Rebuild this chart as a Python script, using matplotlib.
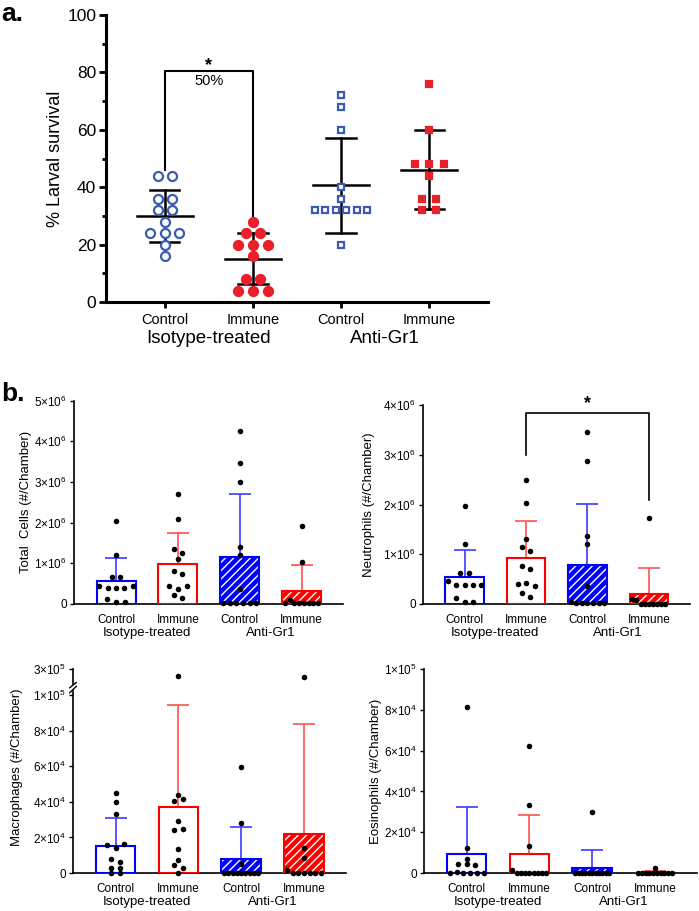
import numpy as np
import matplotlib
matplotlib.use("Agg")
import matplotlib.pyplot as plt
from matplotlib.ticker import FuncFormatter, MultipleLocator

plt.rcParams['font.family'] = ['Liberation Sans', 'DejaVu Sans']
plt.rcParams['mathtext.fontset'] = 'custom'
plt.rcParams['mathtext.rm'] = 'Liberation Sans'
plt.rcParams['hatch.linewidth'] = 1.0

# ---- panel a: % larval survival ----
a_groups = ["Control", "Immune", "Control", "Immune"]
a_treat = ["Isotype-treated", "Anti-Gr1"]
a_ctrl_iso = [44, 44, 36, 36, 32, 32, 28, 24, 24, 24, 20, 16]
a_imm_iso = [28, 24, 24, 20, 20, 20, 16, 8, 8, 4, 4, 4]
a_ctrl_gr1 = [72, 68, 60, 40, 36, 32, 32, 32, 32, 32, 32, 20]
a_imm_gr1 = [76, 60, 48, 48, 48, 44, 36, 36, 32, 32]

# ---- panel b: cells per chamber ----
tot_ctrl_iso = [2.03, 1.20, 0.66, 0.66, 0.45, 0.385, 0.385, 0.385, 0.45, 0.13, 0.04, 0.04]
tot_imm_iso = [2.71, 2.08, 1.35, 1.25, 1.10, 0.80, 0.74, 0.45, 0.37, 0.45, 0.22, 0.15]
tot_ctrl_gr1 = [4.25, 3.46, 2.99, 1.39, 1.20, 0.36, 0.03, 0.03, 0.03, 0.03, 0.03, 0.03]
tot_imm_gr1 = [1.92, 1.04, 0.03, 0.11, 0.03, 0.03, 0.03, 0.03, 0.03, 0.03]

neu_ctrl_iso = [1.96, 1.21, 0.62, 0.62, 0.455, 0.38, 0.38, 0.38, 0.38, 0.13, 0.05, 0.05]
neu_imm_iso = [2.50, 2.04, 1.31, 1.15, 1.07, 0.77, 0.70, 0.40, 0.43, 0.37, 0.23, 0.14]
neu_ctrl_gr1 = [3.46, 2.88, 1.37, 1.21, 0.37, 0.05, 0.02, 0.02, 0.02, 0.02, 0.02, 0.02]
neu_imm_gr1 = [1.72, 0.10, 0.08, 0.01, 0.01, 0.01, 0.01, 0.01, 0.01, 0.01]

mac_ctrl_iso = [4.49, 3.98, 3.30, 1.59, 1.40, 1.64, 0.78, 0.60, 0.26, 0.26, 0.0, 0.0]
mac_imm_iso = [21.2, 4.40, 4.05, 4.15, 2.93, 2.40, 2.47, 1.33, 0.75, 0.43, 0.28, 0.0]
mac_ctrl_gr1 = [5.98, 2.80, 0.52, 0, 0, 0, 0, 0, 0, 0, 0, 0]
mac_imm_gr1 = [19.7, 1.40, 0.84, 0.19, 0, 0, 0, 0, 0, 0]

eos_ctrl_iso = [8.16, 1.22, 0.69, 0.46, 0.44, 0.37, 0, 0.05, 0, 0, 0, 0]
eos_imm_iso = [6.23, 3.31, 1.34, 0.16, 0, 0, 0, 0, 0, 0, 0, 0]
eos_ctrl_gr1 = [2.99, 0, 0, 0, 0, 0, 0, 0, 0, 0, 0, 0]
eos_imm_gr1 = [0.26, 0, 0, 0, 0, 0, 0, 0, 0, 0, 0]

BLUE = '#0000ff'
RED = '#ff0000'


def swarm(vals, tol, step, half):
    # spread points with nearly equal values side by side
    vals = np.asarray(vals, float)
    order = np.argsort(vals, kind='stable')
    xs = np.zeros(len(vals))
    groups, cur = [], [order[0]]
    for i in order[1:]:
        if vals[i] - vals[cur[-1]] <= tol:
            cur.append(i)
        else:
            groups.append(cur)
            cur = [i]
    groups.append(cur)
    for g in groups:
        g = sorted(g)
        n = len(g)
        sp = step if n < 2 else min(step, 2 * half / (n - 1))
        for k, i in enumerate(g):
            xs[i] = (k - (n - 1) / 2) * sp
    return xs


fig = plt.figure(figsize=(6.99, 9.11), dpi=100)


def px_axes(l, t, r, b):
    return fig.add_axes([l / 699, 1 - b / 911, (r - l) / 699, (b - t) / 911])


# ================= panel a =================
ax = px_axes(106, 15, 488, 302)
a_sets = [(a_ctrl_iso, 'o', 'white', '#3a5bb0', 6.5),
          (a_imm_iso, 'o', '#e8202a', '#e8202a', 6.5),
          (a_ctrl_gr1, 's', 'white', '#3a5bb0', 5.0),
          (a_imm_gr1, 's', '#e8202a', '#e8202a', 5.0)]
for i, (vals, mk, fc, ec, ms) in enumerate(a_sets):
    v = np.array(vals, float)
    off = swarm(v, 0.5, 0.165, 0.3)
    ax.plot(i + off, v, ls='none', marker=mk, ms=ms, mfc=fc, mec=ec, mew=1.6,
            clip_on=False, zorder=3)
    m, sd = v.mean(), v.std(ddof=1)
    ax.plot([i - 0.32, i + 0.32], [m, m], color='black', lw=1.8, zorder=2)
    ax.plot([i, i], [m - sd, m + sd], color='black', lw=1.8, zorder=2)
    for y in (m - sd, m + sd):
        ax.plot([i - 0.165, i + 0.165], [y, y], color='black', lw=1.8, zorder=2)

ax.plot([0, 0, 1, 1], [46, 80.5, 80.5, 30], color='black', lw=1.5)
ax.text(0.5, 82.5, '*', ha='center', va='center', fontsize=13, fontweight='bold')
ax.text(0.5, 77, '50%', ha='center', va='center', fontsize=10.5)

ax.set_xlim(-0.67, 3.67)
ax.set_ylim(0, 100)
ax.yaxis.set_major_locator(MultipleLocator(20))
ax.yaxis.set_minor_locator(MultipleLocator(10))
ax.set_xticks(range(4), a_groups, fontsize=10.5)
ax.tick_params(axis='y', labelsize=12.5, length=5, width=2, pad=2)
ax.tick_params(axis='y', which='minor', length=3, width=2)
ax.tick_params(axis='x', length=4, width=2, pad=4)
ax.set_ylabel('% Larval survival', fontsize=13, labelpad=2)
for s in ('top', 'right'):
    ax.spines[s].set_visible(False)
for s in ('left', 'bottom'):
    ax.spines[s].set_linewidth(2.2)
for k, lab in enumerate(a_treat):
    ax.annotate(lab, xy=(2 * k + 0.5, 0), xycoords=('data', 'axes fraction'),
                xytext=(0, -26), textcoords='offset points',
                ha='center', va='center', fontsize=13.5)

fig.text(0.002, 1 - 14 / 911, 'a.', fontsize=19, fontweight='bold', va='center')
fig.text(0.002, 1 - 394 / 911, 'b.', fontsize=19, fontweight='bold', va='center')


# ================= panel b =================
def sci(v, pos):
    if v <= 0:
        return '0'
    e = int(np.floor(np.log10(v) + 1e-9))
    return r'$\mathregular{%d{\times}10^{%d}}$' % (round(v / 10 ** e), e)


def style_b(ax, ticks, show_x=True):
    ax.set_xlim(-0.68, 3.67)
    ax.set_yticks(ticks)
    ax.yaxis.set_major_formatter(FuncFormatter(sci))
    ax.tick_params(axis='y', labelsize=8.5, length=3, width=1, pad=2)
    for s in ('top', 'right'):
        ax.spines[s].set_visible(False)
    ax.spines['left'].set_linewidth(1.2)
    ax.spines['bottom'].set_linewidth(1.2)
    if show_x:
        ax.set_xticks(range(4), a_groups, fontsize=8.5)
        ax.tick_params(axis='x', length=0, pad=7)
        for k, lab in enumerate(a_treat):
            ax.annotate(lab, xy=(2 * k + 0.5, 0), xycoords=('data', 'axes fraction'),
                        xytext=(0, -21), textcoords='offset points',
                        ha='center', va='center', fontsize=9.5)
    else:
        ax.set_xticks([])
        ax.spines['bottom'].set_visible(False)


def bars_b(ax, sets, scale, tol, cut=None, ax_hi=None):
    cols = [BLUE, RED, BLUE, RED]
    ecols = ['#3b3bff', '#ff5050', '#3b3bff', '#ff5050']
    for i, vals in enumerate(sets):
        v = np.array(vals, float) * scale
        m, sd = v.mean(), v.std(ddof=1)
        ax.errorbar(i, m, yerr=[[0], [sd]], color=ecols[i], capsize=8,
                    elinewidth=1.2, capthick=1.2, zorder=1)
        if i >= 2:
            ax.bar(i, m, width=0.63, color=cols[i], edgecolor='white',
                   hatch='////', lw=0, zorder=2)
        else:
            ax.bar(i, m, width=0.63, color='white', lw=0, zorder=2)
        ax.bar(i, m, width=0.63, fill=False, edgecolor=cols[i], lw=1.5, zorder=3)
        off = swarm(v, tol, 0.14, 0.27)
        lo = v <= (cut if cut else np.inf)
        ax.scatter(i + off[lo], v[lo], s=16, color='black', zorder=4,
                   clip_on=False, linewidths=0)
        if ax_hi is not None and (~lo).any():
            ax_hi.scatter(i + off[~lo], v[~lo], s=16, color='black', zorder=4,
                          clip_on=False, linewidths=0)


# Total cells
ax1 = px_axes(74, 400.7, 343, 604)
bars_b(ax1, [tot_ctrl_iso, tot_imm_iso, tot_ctrl_gr1, tot_imm_gr1], 1e6, 0.11e6)
ax1.set_ylim(0, 5e6)
style_b(ax1, np.arange(0, 5.1e6, 1e6))
ax1.set_ylabel('Total  Cells (#/Chamber)', fontsize=9.5)
ax1.yaxis.set_label_coords(-0.155, 0.5)

# Neutrophils
ax2 = px_axes(423, 405, 690, 604)
bars_b(ax2, [neu_ctrl_iso, neu_imm_iso, neu_ctrl_gr1, neu_imm_gr1], 1e6, 0.09e6)
ax2.set_ylim(0, 4e6)
style_b(ax2, np.arange(0, 4.1e6, 1e6))
ax2.set_ylabel('Neutrophils (#/Chamber)', fontsize=9.5)
ax2.yaxis.set_label_coords(-0.18, 0.5)
ax2.plot([1, 1, 3, 3], [3.0e6, 3.83e6, 3.83e6, 2.1e6], color='black', lw=1.2,
         clip_on=False)
ax2.text(2, 4.02e6, '*', ha='center', va='center', fontsize=13, fontweight='bold')

# Macrophages (broken axis)
ax3 = px_axes(73, 690, 346, 873)
ax3h = px_axes(73, 669, 346, 684)
bars_b(ax3, [mac_ctrl_iso, mac_imm_iso, mac_ctrl_gr1, mac_imm_gr1], 1e4, 0.2e4,
       cut=1.0e5, ax_hi=ax3h)
ax3.set_ylim(0, 1e5 * (873 - 690) / (873 - 695))
style_b(ax3, np.arange(0, 1.01e5, 2e4))
ax3h.set_ylim(1e5, 3e5)
style_b(ax3h, [3e5], show_x=False)
ax3.set_ylabel('Macrophages (#/Chamber)', fontsize=9.5)
ax3.yaxis.set_label_coords(-0.183, 0.58)
ax3.plot([-0.012, 0.012], [0.985, 1.02], transform=ax3.transAxes, color='black',
         lw=1.0, clip_on=False)
ax3h.plot([-0.012, 0.012], [-0.25, 0.1], transform=ax3h.transAxes, color='black',
          lw=1.0, clip_on=False)

# Eosinophils
ax4 = px_axes(424, 669, 697, 873)
bars_b(ax4, [eos_ctrl_iso, eos_imm_iso, eos_ctrl_gr1, eos_imm_gr1], 1e4, 0.2e4)
ax4.set_ylim(0, 1e5)
style_b(ax4, np.arange(0, 1.01e5, 2e4))
ax4.set_ylabel('Eosinophils (#/Chamber)', fontsize=9.5)
ax4.yaxis.set_label_coords(-0.154, 0.5)

fig.savefig('out.png', dpi=100)
